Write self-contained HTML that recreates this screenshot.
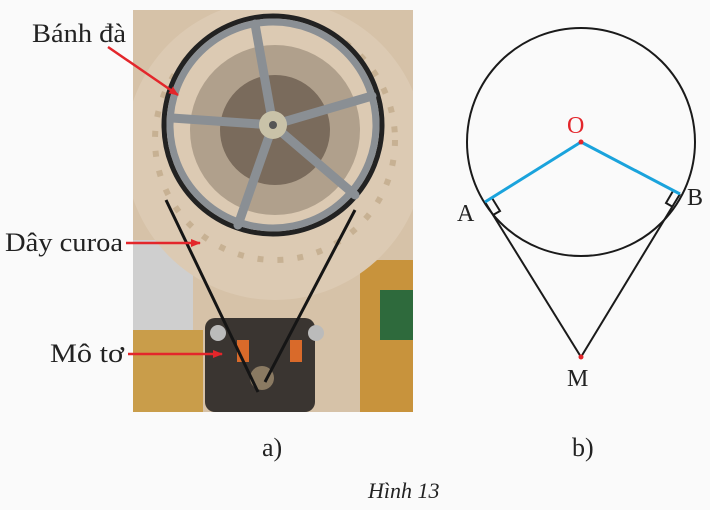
<!DOCTYPE html>
<html><head><meta charset="utf-8"><style>
body{margin:0;width:710px;height:510px;background:#fafafa;overflow:hidden;font-family:"Liberation Serif",serif;}
</style></head><body>
<svg width="710" height="510" xmlns="http://www.w3.org/2000/svg" style="position:absolute;left:0;top:0">
<defs>
<marker id="ar" markerWidth="10" markerHeight="8" refX="9" refY="4" orient="auto" markerUnits="userSpaceOnUse"><path d="M0,0 L10,4 L0,8 z" fill="#e3262b"/></marker>
<clipPath id="ph"><rect x="133" y="10" width="280" height="402"/></clipPath>
</defs>
<g clip-path="url(#ph)">
<rect x="133" y="10" width="280" height="402" fill="#d6c2a8"/>
<rect x="133" y="240" width="60" height="172" fill="#cfcfcf"/>
<rect x="133" y="330" width="70" height="82" fill="#c99d4a"/>
<rect x="360" y="260" width="53" height="152" fill="#c8933c"/>
<rect x="380" y="290" width="33" height="50" fill="#2e6a3c"/>
<circle cx="275" cy="150" r="150" fill="#dccab3"/>
<circle cx="275" cy="140" r="120" fill="none" stroke="#c7b193" stroke-width="6" stroke-dasharray="6 14"/>
<circle cx="275" cy="130" r="85" fill="#b0a08c"/>
<circle cx="275" cy="130" r="55" fill="#7a6b5c"/>
<circle cx="273" cy="125" r="109" fill="none" stroke="#222" stroke-width="5"/>
<circle cx="273" cy="125" r="103" fill="none" stroke="#8a8f94" stroke-width="7"/>
<g stroke="#8a8f94" stroke-width="9" stroke-linecap="round">
<line x1="273" y1="125" x2="255" y2="24"/>
<line x1="273" y1="125" x2="372" y2="96"/>
<line x1="273" y1="125" x2="355" y2="195"/>
<line x1="273" y1="125" x2="238" y2="225"/>
<line x1="273" y1="125" x2="172" y2="118"/>
</g>
<circle cx="273" cy="125" r="14" fill="#c9c2a8"/>
<circle cx="273" cy="125" r="4" fill="#555"/>
<rect x="205" y="318" width="110" height="94" rx="10" fill="#3a3531"/>
<circle cx="218" cy="333" r="8" fill="#bbb"/>
<circle cx="316" cy="333" r="8" fill="#bbb"/>
<rect x="237" y="340" width="12" height="22" fill="#d96a2a"/>
<rect x="290" y="340" width="12" height="22" fill="#d96a2a"/>
<circle cx="262" cy="378" r="12" fill="#8a7a62"/>
<g stroke="#151515" stroke-width="3" fill="none">
<line x1="166" y1="200" x2="258" y2="392"/>
<line x1="355" y1="210" x2="265" y2="382"/>
</g>
</g>
<g font-size="26" fill="#222">
<text x="32" y="42" textLength="94" lengthAdjust="spacingAndGlyphs">Bánh đà</text>
<text x="5" y="251" textLength="118" lengthAdjust="spacingAndGlyphs">Dây curoa</text>
<text x="50" y="362" textLength="74" lengthAdjust="spacingAndGlyphs">Mô tơ</text>
<text x="262" y="456">a)</text>
<text x="572" y="456">b)</text>
<text x="368" y="498" font-style="italic" font-size="22">Hình 13</text>
</g>
<g stroke="#e3262b" stroke-width="2.5" marker-end="url(#ar)">
<line x1="108" y1="47" x2="178" y2="95"/>
<line x1="126" y1="243" x2="200" y2="243"/>
<line x1="128" y1="354" x2="222" y2="354"/>
</g>
<circle cx="581" cy="142" r="114" fill="none" stroke="#1a1a1a" stroke-width="2"/>
<g stroke="#1a1a1a" stroke-width="2" fill="none">
<line x1="485" y1="202" x2="581" y2="357"/>
<line x1="680" y1="194" x2="581" y2="357"/>
<path d="M492,198 L500,211 L493,215"/>
<path d="M673,191 L666,203 L673,207"/>
</g>
<g stroke="#1aa3dc" stroke-width="3">
<line x1="581" y1="142" x2="485" y2="202"/>
<line x1="581" y1="142" x2="680" y2="194"/>
</g>
<circle cx="581" cy="142" r="2.5" fill="#e3262b"/>
<circle cx="581" cy="357" r="2.5" fill="#e3262b"/>
<g font-size="24" fill="#222">
<text x="567" y="133" fill="#e3262b">O</text>
<text x="457" y="221">A</text>
<text x="687" y="205">B</text>
<text x="567" y="386">M</text>
</g>
</svg>
</body></html>
